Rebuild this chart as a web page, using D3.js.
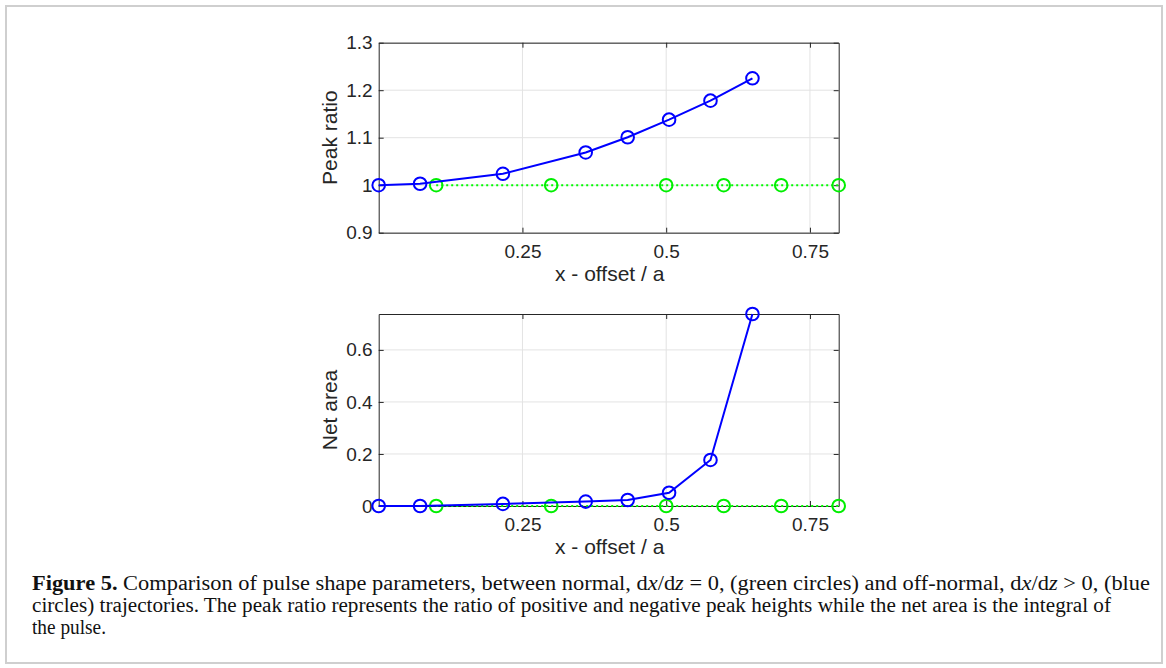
<!DOCTYPE html>
<html><head><meta charset="utf-8">
<script src="https://cdn.jsdelivr.net/npm/d3@7"></script>
<style>body{margin:0;background:#fff}svg{display:block}</style>
</head><body><svg id="c" width="1166" height="668"></svg>
<script>
// ---- data ----
const blueX = [0, 0.072, 0.216, 0.36, 0.433, 0.505, 0.577, 0.65];
const bluePeakRatio = [1.0, 1.003, 1.024, 1.069, 1.101, 1.138, 1.178, 1.225];
const blueNetArea = [0, 0, 0.008, 0.017, 0.023, 0.051, 0.177, 0.738];
const greenX = [0.1, 0.3, 0.5, 0.6, 0.7, 0.8];
const greenPeakRatio = [1, 1, 1, 1, 1, 1];
const greenNetArea = [0, 0, 0, 0, 0, 0];
const xTicks = [0.25, 0.5, 0.75];
const yTicksTop = [0.9, 1, 1.1, 1.2, 1.3];
const yTicksBottom = [0, 0.2, 0.4, 0.6];

const svg = d3.select("#c");
svg.append("rect").attr("x",6).attr("y",6).attr("width",1156).attr("height",657)
  .attr("fill","#fff").attr("stroke","#cfcfcf").attr("stroke-width",2);

const axisColor = "#262626";
const L = 378.7, R = 838.7;
const sans = "Liberation Sans, Arial, sans-serif";

function panel(opts){
  const x = d3.scaleLinear().domain([0,0.8]).range([L,R]);
  const y = d3.scaleLinear().domain(opts.yDomain).range([opts.bottom, opts.top]);
  const g = svg.append("g");
  g.append("g").selectAll("line").data(xTicks).join("line")
    .attr("x1",d=>x(d)).attr("x2",d=>x(d)).attr("y1",opts.top).attr("y2",opts.bottom)
    .attr("stroke","#e3e3e3").attr("stroke-width",1);
  g.append("g").selectAll("line").data(opts.yTicks).join("line")
    .attr("x1",L).attr("x2",R).attr("y1",d=>y(d)).attr("y2",d=>y(d))
    .attr("stroke","#e3e3e3").attr("stroke-width",1);
  const ax = g.append("g").attr("transform",`translate(0,${opts.bottom})`)
    .call(d3.axisBottom(x).tickValues(xTicks).tickSizeInner(-5).tickSizeOuter(0).tickPadding(12).tickFormat(d3.format("")));
  const axT = g.append("g").attr("transform",`translate(0,${opts.top})`)
    .call(d3.axisTop(x).tickValues(xTicks).tickSizeInner(-5).tickSizeOuter(0).tickFormat(""));
  const ay = g.append("g").attr("transform",`translate(${L},0)`)
    .call(d3.axisLeft(y).tickValues(opts.yTicks).tickSizeInner(-5).tickSizeOuter(0).tickPadding(6).tickFormat(d3.format("")));
  const ayR = g.append("g").attr("transform",`translate(${R},0)`)
    .call(d3.axisRight(y).tickValues(opts.yTicks).tickSizeInner(-5).tickSizeOuter(0).tickFormat(""));
  [ax,axT,ay,ayR].forEach(a=>{
    a.select(".domain").attr("stroke",axisColor).attr("stroke-width",1);
    a.selectAll(".tick line").attr("stroke",axisColor);
    a.selectAll(".tick text").attr("fill",axisColor).attr("font-family",sans).attr("font-size",19);
  });
  const line = d3.line().x(d=>x(d[0])).y(d=>y(d[1]));
  const gd = greenX.map((v,i)=>[v,opts.green[i]]);
  const bd = blueX.map((v,i)=>[v,opts.blue[i]]);
  g.append("path").datum(gd).attr("d",line).attr("fill","none").attr("stroke","#00ff00")
    .attr("stroke-width",2).attr("stroke-dasharray","2,3");
  g.append("g").selectAll("circle").data(gd).join("circle")
    .attr("cx",d=>x(d[0])).attr("cy",d=>y(d[1])).attr("r",6.3)
    .attr("fill","none").attr("stroke","#00ee00").attr("stroke-width",2);
  g.append("path").datum(bd).attr("d",line).attr("fill","none").attr("stroke","#0000ff")
    .attr("stroke-width",2);
  g.append("g").selectAll("circle").data(bd).join("circle")
    .attr("cx",d=>x(d[0])).attr("cy",d=>y(d[1])).attr("r",6.3)
    .attr("fill","none").attr("stroke","#0000ff").attr("stroke-width",2);
  g.append("text").attr("x",(L+R)/2+1).attr("y",opts.bottom+48).attr("text-anchor","middle")
    .attr("font-family",sans).attr("font-size",21).attr("fill",axisColor)
    .text("x - offset / a");
  g.append("text").attr("transform",`translate(337,${(opts.top+opts.bottom)/2}) rotate(-90)`)
    .attr("text-anchor","middle")
    .attr("font-family",sans).attr("font-size",21).attr("fill",axisColor)
    .text(opts.ylabel);
}

panel({top:42.7,bottom:232.7,yDomain:[0.9,1.3],yTicks:yTicksTop,blue:bluePeakRatio,green:greenPeakRatio,ylabel:"Peak ratio"});
panel({top:314,bottom:506,yDomain:[0,0.738],yTicks:yTicksBottom,blue:blueNetArea,green:greenNetArea,ylabel:"Net area"});

// caption
const cap = svg.append("g").attr("font-family","Liberation Serif, Times New Roman, serif").attr("fill","#111");
const lines = [
  [["b","Figure 5."],["n"," Comparison of pulse shape parameters, between normal, d"],["i","x"],["n","/d"],["i","z"],["n"," = 0, (green circles) and off-normal, d"],["i","x"],["n","/d"],["i","z"],["n"," > 0, (blue"]],
  [["n","circles) trajectories. The peak ratio represents the ratio of positive and negative peak heights while the net area is the integral of"]],
  [["n","the pulse."]]
];
const baselines = [590, 612, 634];
const lineWidths = [1118, 1079, 74];
const fs = 20;
lines.forEach((segs,i)=>{
  const t = cap.append("text").attr("x",32).attr("y",baselines[i]).attr("font-size",fs)
    .attr("textLength",lineWidths[i]).attr("lengthAdjust","spacingAndGlyphs");
  segs.forEach(s=>{
    const ts = t.append("tspan").text(s[1]);
    if(s[0]==="b") ts.attr("font-weight","bold");
    if(s[0]==="i") ts.attr("font-style","italic");
  });
});
</script></body></html>
